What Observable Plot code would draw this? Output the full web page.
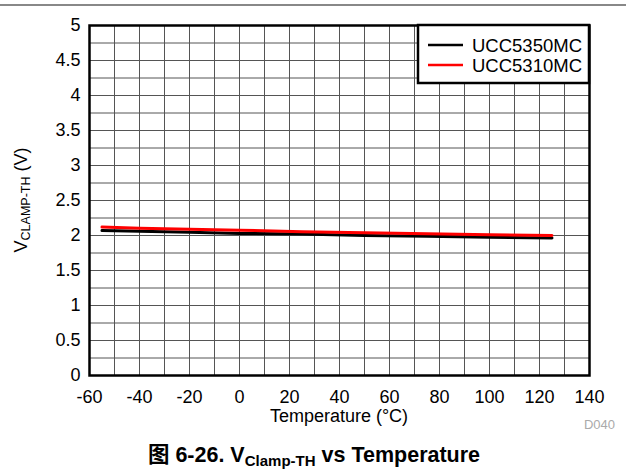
<!DOCTYPE html>
<html><head><meta charset="utf-8">
<script src="https://cdn.jsdelivr.net/npm/d3@7"></script>
<script src="https://cdn.jsdelivr.net/npm/@observablehq/plot@0.6"></script>
<style>
body{margin:0;background:#fff;}
svg{font-family:"Liberation Sans",Arial,"Noto Sans CJK SC",sans-serif;}
</style>
</head><body><div id="chart"></div>
<script>
// Data
const temps = [-55, -40, -20, 0, 25, 50, 75, 100, 125];
const ucc5350mc = [2.07, 2.06, 2.045, 2.03, 2.02, 2.0, 1.99, 1.975, 1.965];
const ucc5310mc = [2.12, 2.105, 2.09, 2.075, 2.055, 2.04, 2.025, 2.01, 2.0];
const seriesNames = ["UCC5350MC", "UCC5310MC"];
const seriesColors = ["#000000", "#ff0000"];
const xTicks = [-60, -40, -20, 0, 20, 40, 60, 80, 100, 120, 140];
const xGrid = [-60, -50, -40, -30, -20, -10, 0, 10, 20, 30, 40, 50, 60, 70, 80, 90, 100, 110, 120, 130, 140];
const yTicks = [0, 0.5, 1, 1.5, 2, 2.5, 3, 3.5, 4, 4.5, 5];
const yGrid = [0, 0.25, 0.5, 0.75, 1, 1.25, 1.5, 1.75, 2, 2.25, 2.5, 2.75, 3, 3.25, 3.5, 3.75, 4, 4.25, 4.5, 4.75, 5];

const data = [
  ...temps.map((t, i) => ({series: seriesNames[0], t, v: ucc5350mc[i]})),
  ...temps.map((t, i) => ({series: seriesNames[1], t, v: ucc5310mc[i]}))
];

const W = 626, H = 473;
const mL = 89, mR = 37, mT = 25, mB = 98;
const FONT = '"Liberation Sans", Arial, "Noto Sans CJK SC", sans-serif';

const plot = Plot.plot({
  width: W, height: H,
  marginLeft: mL, marginRight: mR, marginTop: mT, marginBottom: mB,
  style: {fontFamily: FONT, fontSize: "18px", background: "#fff", color: "#000"},
  x: {domain: [-60, 140]},
  y: {domain: [0, 5]},
  color: {domain: seriesNames, range: seriesColors},
  marks: [
    Plot.ruleX(xGrid, {stroke: "#555", strokeWidth: 1}),
    Plot.ruleY(yGrid, {stroke: "#555", strokeWidth: 1}),
    Plot.line(data, {x: "t", y: "v", z: "series", stroke: "series", strokeWidth: 3}),
    Plot.frame({stroke: "#000", strokeWidth: 2.5}),
    Plot.axisX(xTicks, {tickSize: 0, tickPadding: 15, label: null, fontSize: 18, tickFormat: d => String(d)}),
    Plot.axisY(yTicks, {tickSize: 0, tickPadding: 9, label: null, fontSize: 18, tickFormat: d => String(d)})
  ]
});
document.getElementById("chart").appendChild(plot);

const svg = d3.select(plot);
const xs = plot.scale("x"), ys = plot.scale("y");
const fx0 = xs.apply(-60), fx1 = xs.apply(140), fy0 = ys.apply(5), fy1 = ys.apply(0);

// top rule
svg.append("line").attr("x1", 0).attr("x2", W).attr("y1", 5).attr("y2", 5)
  .attr("stroke", "#888").attr("stroke-width", 2);

// legend
const lg = svg.append("g").attr("font-family", FONT).attr("text-anchor", "start");
const lx = 418, lw = fx1 - lx, lh = 58;
lg.append("rect").attr("x", lx).attr("y", fy0).attr("width", lw).attr("height", lh)
  .attr("fill", "#fff").attr("stroke", "#000").attr("stroke-width", 2.5);
seriesNames.forEach((n, i) => {
  const yy = fy0 + 20 + i * 20;
  lg.append("line").attr("x1", lx + 10).attr("x2", lx + 45).attr("y1", yy).attr("y2", yy)
    .attr("stroke", seriesColors[i]).attr("stroke-width", 2.5);
  lg.append("text").attr("x", lx + 54).attr("y", yy + 6.5).attr("font-size", 18.5)
    .attr("text-anchor", "start").attr("fill", "#000").text(n);
});

// x label
svg.append("text").attr("x", (fx0 + fx1) / 2).attr("y", 422).attr("text-anchor", "middle")
  .attr("font-size", 18).attr("fill", "#000").text("Temperature (°C)");

// y label
const yl = svg.append("text").attr("transform", `translate(27,${(fy0 + fy1) / 2}) rotate(-90)`)
  .attr("text-anchor", "middle").attr("font-size", 18).attr("fill", "#000");
yl.append("tspan").text("V");
yl.append("tspan").attr("font-size", 12.5).attr("dy", 3).text("CLAMP-TH");
yl.append("tspan").attr("dy", -3).text(" (V)");

// D040
svg.append("text").attr("x", 615).attr("y", 429).attr("text-anchor", "end")
  .attr("font-size", 13).attr("fill", "#aaa").text("D040");

// caption
const cap = svg.append("text").attr("x", 314).attr("y", 462).attr("text-anchor", "middle")
  .attr("font-size", 21.5).attr("font-weight", "bold").attr("fill", "#000");
cap.append("tspan").text("图 6-26. V");
cap.append("tspan").attr("font-size", 15).attr("dy", 4).text("Clamp-TH");
cap.append("tspan").attr("dy", -4).text(" vs Temperature");
</script>
</body></html>
